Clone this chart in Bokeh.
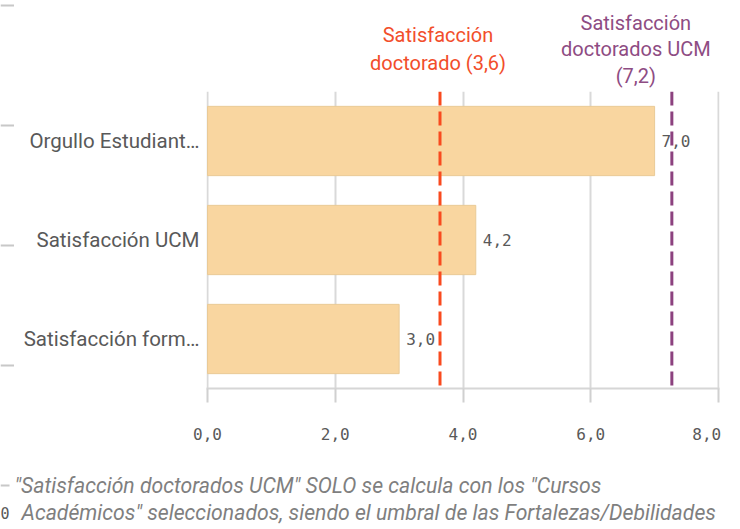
from bokeh.plotting import figure
from bokeh.layouts import row, column
from bokeh.models import (FactorRange, Range1d, FixedTicker, CustomJSTickFormatter,
                          ColumnDataSource, LabelSet, Span)
from bokeh.core.properties import value
from bokeh.embed import file_html
from bokeh.resources import INLINE

# ---- data ----
categories = ["Orgullo Estudiant…", "Satisfacción UCM", "Satisfacción form…"]
values = [7.0, 4.2, 3.0]
value_labels = ["7,0", "4,2", "3,0"]

ref_values = [3.64, 7.27]
ref_text = [["Satisfacción", "doctorado (3,6)"],
            ["Satisfacción", "doctorados UCM", "(7,2)"]]
ref_colors = ["#F94A1E", "#8C427F"]
ref_text_colors = ["#F24E2B", "#8E4C83"]

x_ticks = [0, 2, 4, 6, 8]

footnote = ['"Satisfacción doctorados UCM" SOLO se calcula con los "Cursos',
            'Académicos" seleccionados, siendo el umbral de las Fortalezas/Debilidades']

# ---- layout constants (pixels) ----
W, H = 740, 529
STRIP_W = 14
TOP_H = 91
FOOT_H = 69
MAIN_H = H - TOP_H - FOOT_H
FRAME_L, FRAME_R = 192, 21

x_range = Range1d(-0.016, 8.016)


def no_align(fig):
    try:
        fig.frame_align = False
    except Exception:
        pass


# ---- main chart ----
p = figure(width=W - STRIP_W, height=MAIN_H,
           y_range=FactorRange(factors=categories[::-1]),
           x_range=x_range,
           output_backend="svg", toolbar_location=None,
           min_border_left=FRAME_L, min_border_right=FRAME_R,
           min_border_top=0, min_border_bottom=MAIN_H - 297)
p.outline_line_color = None

src = ColumnDataSource(dict(cat=categories, val=values, lab=value_labels))
p.hbar(y="cat", right="val", left=0, height=0.7, source=src,
       fill_color="#F9D6A0", line_color="#E9CA97", line_width=1)

p.xaxis.ticker = FixedTicker(ticks=x_ticks)
p.xaxis.formatter = CustomJSTickFormatter(
    code="var s = tick.toFixed(1).replace('.', ','); "
         "return tick >= 8 ? s + '\\u00a0\\u00a0' : s;")
p.xaxis.axis_line_color = "#d6d6d6"
p.xaxis.axis_line_width = 2
p.xaxis.major_tick_line_color = "#d0d0d0"
p.xaxis.major_tick_line_width = 2
p.xaxis.major_tick_in = 0
p.xaxis.major_tick_out = 14
p.xaxis.minor_tick_line_color = None
p.xaxis.major_label_text_font = "DejaVu Sans Mono"
p.xaxis.major_label_text_font_size = "16px"
p.xaxis.major_label_text_color = "#595959"
p.xaxis.major_label_standoff = 22

p.xgrid.ticker = FixedTicker(ticks=x_ticks)
p.xgrid.grid_line_color = "#d9d9d9"
p.xgrid.grid_line_width = 2
p.ygrid.grid_line_color = None

p.yaxis.axis_line_color = None
p.yaxis.major_tick_line_color = None
p.yaxis.minor_tick_line_color = None
p.yaxis.major_tick_out = 0
p.yaxis.major_tick_in = 0
p.yaxis.major_label_standoff = 7
p.yaxis.major_label_text_font = "Roboto"
p.yaxis.major_label_text_font_size = "20.5px"
p.yaxis.major_label_text_color = "#595959"

p.add_layout(LabelSet(x="val", y="cat", text="lab", source=src, x_offset=7,
                      text_baseline="middle", text_align="left",
                      text_font=value("DejaVu Sans Mono"), text_font_size="16px",
                      text_color="#595959"))

for v, c in zip(ref_values, ref_colors):
    p.add_layout(Span(location=v, dimension="height", line_color=c,
                      line_width=3, line_dash="14 6"))

# ---- strip above the chart: reference line titles ----
top = figure(width=W - STRIP_W, height=TOP_H, x_range=x_range, y_range=Range1d(TOP_H, 0),
             output_backend="svg", toolbar_location=None,
             x_axis_location=None, y_axis_location=None,
             min_border_left=FRAME_L, min_border_right=FRAME_R,
             min_border_top=0, min_border_bottom=0)
top.outline_line_color = None
top.xgrid.grid_line_color = None
top.ygrid.grid_line_color = None
title_rows = [[34, 62], [22, 48, 75]]
title_shift = [-2, -36]
for v, lines, tc, ys, xo in zip(ref_values, ref_text, ref_text_colors, title_rows, title_shift):
    top.text(x=[v] * len(lines), y=ys, text=lines, x_offset=xo,
             text_align="center", text_baseline="middle",
             text_font=value("Roboto"), text_font_size="20px", text_color=tc)

# ---- footnote strip ----
foot = figure(width=W - STRIP_W, height=FOOT_H,
              x_range=Range1d(STRIP_W, W), y_range=Range1d(H, H - FOOT_H),
              output_backend="svg", toolbar_location=None,
              x_axis_location=None, y_axis_location=None,
              min_border_left=0, min_border_right=0, min_border_top=0, min_border_bottom=0)
no_align(foot)
foot.outline_line_color = None
foot.xgrid.grid_line_color = None
foot.ygrid.grid_line_color = None
foot.text(x=[14, 21], y=[485, 512], text=footnote,
          text_align="left", text_baseline="middle",
          text_font=value("Roboto"), text_font_style="italic",
          text_font_size="21.2px", text_color="#7f7f7f")

# ---- left strip: axis remnants of the neighbouring chart ----
left = figure(width=STRIP_W, height=H, x_range=Range1d(0, STRIP_W), y_range=Range1d(H, 0),
              output_backend="svg", toolbar_location=None,
              x_axis_location=None, y_axis_location=None,
              min_border_left=0, min_border_right=0, min_border_top=0, min_border_bottom=0)
no_align(left)
left.outline_line_color = None
left.xgrid.grid_line_color = None
left.ygrid.grid_line_color = None
tick_y = [5, 125, 245, 365, 485]
tick_len = [14, 14, 14, 14, 9]
left.segment(x0=[0] * len(tick_y), y0=tick_y, x1=tick_len, y1=tick_y,
             line_color="#c8c8c8", line_width=2)
left.text(x=[0], y=[512], text=["0"], text_align="left", text_baseline="middle",
          text_font=value("DejaVu Sans Mono"), text_font_size="15px", text_color="#595959")

root = row(left, column(top, p, foot))
open("out.html", "w").write(file_html(root, INLINE))
